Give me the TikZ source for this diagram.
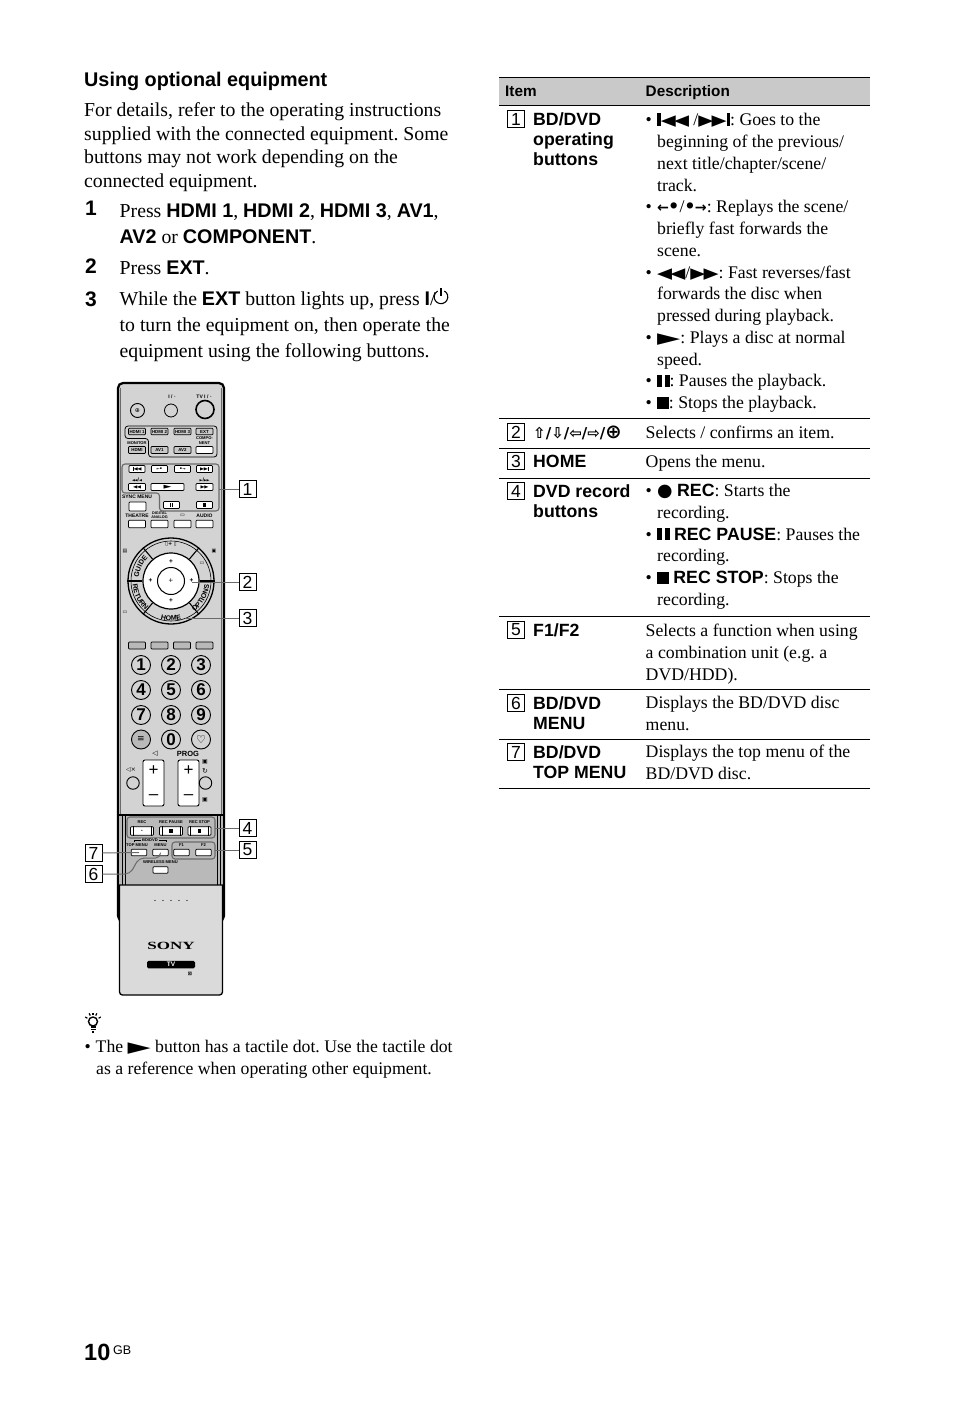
\documentclass[tikz,border=0pt]{standalone}
\usepackage{fontspec}
\usepackage{graphicx}
\usetikzlibrary{decorations.text}
\setmainfont{Liberation Serif}
\setsansfont{Liberation Sans}
\newfontfamily\symf{DejaVu Sans}

\definecolor{headgray}{HTML}{C9C9C9}
\definecolor{bodygray}{HTML}{D3D3D3}
\definecolor{panelgray}{HTML}{B9B9B9}
\definecolor{covergray}{HTML}{DADADA}
\definecolor{linegray}{HTML}{6A6A6A}

\newcommand{\bs}[1]{{\sffamily\bfseries #1}}
\newcommand{\vbar}{\rule{.2em}{.72em}}
\newcommand{\tril}{\scalebox{1.1}[.85]{\symf ◀}}
\newcommand{\trir}{\scalebox{1.1}[.85]{\symf ▶}}
\newcommand{\icoprev}{\vbar\tril\kern-.1em\tril}
\newcommand{\iconext}{\trir\kern-.1em\trir\vbar}
\newcommand{\icorew}{\tril\kern-.1em\tril}
\newcommand{\icoff}{\trir\kern-.1em\trir}
\newcommand{\icoplay}{\scalebox{1.7}[.85]{\symf ▶}}
\newcommand{\icopause}{\rule{.28em}{.66em}\kern.14em\rule{.28em}{.66em}}
\newcommand{\icostop}{\rule{.66em}{.66em}}
\newcommand{\icorec}{{\symf ●}}
\newcommand{\icoback}{{\symf\bfseries\scalebox{.8}{←}\kern-.05em•}}
\newcommand{\icofwd}{{\symf\bfseries•\kern-.05em\scalebox{.8}{→}}}
\newcommand{\bul}{\makebox[11.5pt][l]{•}}
\newcommand{\hng}{\hspace*{11.5pt}}
\newcommand{\ringf}{\fontsize{7}{7}\sffamily\bfseries}

\tikzset{
  para/.style={anchor=north west,inner sep=0,align=left,execute at begin node=\frenchspacing\strut},
  main/.style={para,font=\fontsize{19.75}{23.7}\selectfont},
  stepline/.style={para,font=\fontsize{19.75}{26}\selectfont},
  stepnum/.style={anchor=base west,inner sep=0,font=\fontsize{21}{21}\sffamily\bfseries},
  desc/.style={para,font=\fontsize{17.75}{21.75}\selectfont},
  item/.style={para,font=\fontsize{17.7}{20}\sffamily\bfseries},
  headtxt/.style={anchor=base west,inner sep=0,font=\fontsize{15.3}{16}\sffamily\bfseries},
  numbox/.style={draw,line width=.8,fill=white,minimum size=17,inner sep=0,font=\fontsize{17.5}{18}\sffamily},
  rule/.style={line width=.9},
  btn/.style={draw,line width=.7,fill=white,rounded corners=.8,minimum width=17,minimum height=7,inner sep=0,font=\fontsize{4.4}{5}\sffamily\bfseries},
  gbtn/.style={btn,fill=headgray},
  lab/.style={inner sep=0,align=center,font=\fontsize{5}{5.2}\sffamily\bfseries},
  smalllab/.style={lab,font=\fontsize{4.1}{5}\sffamily\bfseries},
  key/.style={circle,draw,line width=.9,fill=bodygray,minimum size=19,inner sep=0,font=\fontsize{17}{17}\sffamily\bfseries},
  rocker/.style={draw,line width=.9,fill=white,rounded corners=2,minimum width=21,minimum height=46,inner sep=0},
  group/.style={draw=linegray,line width=1.1,rounded corners=3},
  leader/.style={draw=linegray,line width=1},
  ringtxt/.style={decorate,decoration={text along path,text align=center,text={|\ringf|#1}}}
}

\begin{document}
\begin{tikzpicture}[x=1pt,y=-1pt]
  \useasboundingbox (0,0) rectangle (954,1404);

  \node[anchor=base west,inner sep=0,font=\fontsize{19.8}{22}\sffamily\bfseries] (title) at (84,87) {Using optional equipment};
  \node[main] (intro) at (84,102.4) {For details, refer to the operating instructions\\supplied with the connected equipment. Some\\buttons may not work depending on the\\connected equipment.};

  \node[stepnum] (numa) at (85,216) {1};
  \node[stepnum] (numb) at (85,273.5) {2};
  \node[stepnum] (numc) at (85,306) {3};
  \node[stepline] (stepa) at (119.5,203.8) {Press \bs{HDMI 1}, \bs{HDMI 2}, \bs{HDMI 3}, \bs{AV1},\\\bs{AV2} or \bs{COMPONENT}.};
  \node[stepline] (stepb) at (119.5,255.8) {Press \bs{EXT}.};
  \node[stepline] (stepc) at (119.5,291.8) {While the \bs{EXT} button lights up, press \bs{I}/\\to turn the equipment on, then operate the\\equipment using the following buttons.};
  \draw[line width=1.1] (444.4,291) arc (300:600:6.8);
  \draw[line width=1.1] (441,288) -- (441,296.5);

  % remote body
  \draw[line width=2.2,fill=bodygray,rounded corners=5] (118,921) -- (118,383) -- (224,383) -- (224,921) -- cycle;
  \foreach \sx in {120.5,221.5}{\draw[linegray,line width=.6] (\sx,388) -- (\sx,815);}
  \fill[panelgray] (120,815) rectangle (222,885);
  \draw[line width=1.2] (119,815) -- (223,815);
  \foreach \sx in {122,125,217,220}{\draw[black,line width=.6] (\sx,815) -- (\sx,885);}
  \draw[line width=1.3,fill=covergray] (119.5,885) -- (222.5,885) [rounded corners=3] -- (222.5,995) -- (119.5,995) [sharp corners] -- cycle;
  \foreach \dx in {155,163,171,179,187}{\fill (\dx,900.5) circle (.6);}
  \node[inner sep=0,font=\fontsize{11}{11}\bfseries] (sony) at (171,946) {\scalebox{1.55}[1]{SONY}};
  \node[fill=black,text=white,rounded corners=1.5,minimum width=48,minimum height=7.5,inner sep=0,font=\fontsize{6.5}{7}\sffamily\bfseries] (tvbar) at (171,964.5) {TV};
  \node[lab] (eco) at (190,974) {{\symf ⊠}};

  % power row
  \node[circle,draw,line width=.9,fill=bodygray,minimum size=14,inner sep=0,font=\fontsize{6}{6}\symf] (sync) at (137.5,410.5) {⊕};
  \node[circle,draw,line width=.8,fill=bodygray,minimum size=13,inner sep=0] (powa) at (171,410.5) {};
  \node[circle,draw,line width=1.6,fill=bodygray,minimum size=18,inner sep=0] (powb) at (205,409.5) {};
  \node[lab] (powlab) at (172,397) {I / ◦};
  \node[lab] (tvlab) at (204,397) {TV I / ◦};

  % input group
  \draw[group,draw=black,line width=.8] (125,426) -- (217,426) -- (217,457) -- (148.5,457) -- (148.5,438.5) -- (125,438.5) -- cycle;
  \foreach \nm/\cx/\lbl in {hdmia/137/HDMI 1,hdmib/159.5/HDMI 2,hdmic/182.5/HDMI 3,ext/204.5/EXT}{\node[gbtn,minimum height=6.5] (\nm) at (\cx,431.5) {\lbl};}
  \node[smalllab] (monlab) at (137,443) {MONITOR};
  \node[gbtn] (hdmid) at (137,450) {HDMI};
  \node[gbtn] (ava) at (159.5,450) {AV1};
  \node[gbtn] (avb) at (182.5,450) {AV2};
  \node[btn] (comp) at (204.5,450) {};
  \node[smalllab] (complab) at (204.5,440.5) {COMPO-\\NENT};

  % bd/dvd group
  \draw[group] (122,464) -- (219,464) -- (219,511) -- (159.5,511) -- (159.5,493) -- (122,493) -- cycle;
  \foreach \nm/\cx/\ico in {prv/137/\icoprev,bck/159.5/\icoback,fwd/182.5/\icofwd,nxt/204.5/\iconext}{\node[btn,minimum width=16,font=\fontsize{5}{5}\selectfont] (\nm) at (\cx,469) {\ico};}
  \node[btn,font=\fontsize{5}{5}\selectfont] (rew) at (137,487) {\icorew};
  \node[btn,minimum width=33,font=\fontsize{6}{6}\selectfont] (play) at (167.5,487) {\icoplay};
  \node[btn,font=\fontsize{5}{5}\selectfont] (ffw) at (204.5,487) {\icoff};
  \node[lab] (rewlab) at (137,479.5) {\scalebox{.7}{\icorew}/\scalebox{.7}{\tril}};
  \node[lab] (ffwlab) at (204.5,479.5) {\scalebox{.7}{\trir}/\scalebox{.7}{\icoff}};
  \node[lab] (synclab) at (137,497) {SYNC MENU};
  \node[btn,minimum height=9] (syncb) at (137.5,506.5) {};
  \node[btn,minimum width=16,font=\fontsize{5}{5}\selectfont] (pau) at (171.5,505) {\icopause};
  \node[btn,minimum width=16,font=\fontsize{5}{5}\selectfont] (stp) at (204.5,505) {\icostop};

  \node[lab] (thlab) at (137,515.5) {THEATRE};
  \node[lab,font=\fontsize{3.8}{4.2}\sffamily\bfseries] (dilab) at (159.5,515.5) {DIGITAL\\ANALOG};
  \node[lab] (sublab) at (182.5,515.5) {{\symf ▭}};
  \node[lab] (aulab) at (204.5,515.5) {AUDIO};
  \foreach \nm/\cx in {tha/137,thb/159.5,thc/182.5,thd/204.5}{\node[btn,minimum height=7.5] (\nm) at (\cx,524) {};}

  % nav ring
  \node[circle,draw,line width=1.3,fill=bodygray,minimum size=86,inner sep=0] (ringout) at (171,581) {};
  \node[circle,draw,line width=.6,minimum size=80,inner sep=0] (ringmid) at (171,581) {};
  \node[circle,draw,line width=1.2,fill=white,minimum size=56,inner sep=0] (ringin) at (171,581) {};
  \node[circle,draw,line width=1,fill=white,minimum size=27,inner sep=0] (enter) at (171,581) {};
  \foreach \a in {0,50,130,180,230,310}{\draw[line width=1.1] (ringin.\a) -- (ringout.\a);}
  \node[lab,font=\fontsize{6}{6}\symf] (enterdot) at (171,581) {+};
  \foreach \nm/\bx/\by in {upk/171/561.5,dnk/171/600.5,ltk/150.5/581,rtk/191.5/581}{\node[lab,font=\fontsize{6.5}{6.5}\sffamily\bfseries] (\nm) at (\bx,\by) {+};}
  \path[ringtxt=GUIDE] (171,581) ++(-176:32.5) arc (-176:-133:32.5);
  \path[ringtxt=RETURN] (171,581) ++(-184:38.5) arc (-184:-230:38.5);
  \path[ringtxt=HOME] (171,581) ++(-248:39.5) arc (-248:-292:39.5);
  \path[ringtxt=OPTIONS] (171,581) ++(55:38.5) arc (55:4:38.5);
  \node[lab] (topic) at (171,544.5) {{\symf ▯+ ▯}};
  \node[lab] (iconl) at (125,551) {{\symf ▤}};
  \node[lab] (iconr) at (214,551) {{\symf ▣}};
  \node[lab] (iconb) at (125,612) {{\symf ▭}};
  \node[lab] (iconc) at (202,563) {{\symf ▭}};

  % colour keys and numbers
  \foreach \nm/\cx in {cola/137,colb/159.5,colc/182,cold/204.5}{\node[btn,fill=panelgray] (\nm) at (\cx,645.5) {};}
  \foreach \n/\cx/\cy in {1/141/665,2/171/665,3/201/665,4/141/690,5/171/690,6/201/690,7/141/715,8/171/715,9/201/715,0/171/739.5}{\node[key] (key\n) at (\cx,\cy) {\n};}
  \node[key,fill=panelgray,font=\fontsize{9}{9}\symf] (keyt) at (141,739.5) {≡};
  \node[key,font=\fontsize{11}{11}\symf] (keyh) at (201,739.5) {♡};

  % volume and prog
  \node[rocker] (vol) at (153.5,783) {};
  \node[rocker] (prog) at (188.5,783) {};
  \foreach \nm/\cx in {vp/153.5,pp/188.5}{\node[inner sep=0,font=\fontsize{17}{17}\sffamily] (\nm) at (\cx,771) {+};}
  \foreach \nm/\cx in {vm/153.5,pm/188.5}{\node[inner sep=0,font=\fontsize{17}{17}\sffamily] (\nm) at (\cx,797) {–};}
  \node[lab,font=\fontsize{7}{7}\symf] (vollab) at (155,754) {◁};
  \node[lab,font=\fontsize{7.5}{8}\sffamily\bfseries] (proglab) at (188,754) {PROG};
  \node[circle,draw,line width=.9,fill=bodygray,minimum size=12.5,inner sep=0] (mute) at (133,783) {};
  \node[circle,draw,line width=.9,fill=bodygray,minimum size=12.5,inner sep=0] (back) at (205.5,783) {};
  \node[lab,font=\fontsize{6}{6}\symf] (mutelab) at (131,770) {◁×};
  \node[lab,font=\fontsize{6}{6}\symf] (chup) at (205,762) {▣};
  \node[lab,font=\fontsize{7}{7}\symf] (rtn) at (205,771) {↻};
  \node[lab,font=\fontsize{6}{6}\symf] (chdn) at (205,800) {▣};

  % lower panel
  \draw[group] (127,817) rectangle (215,838);
  \foreach \nm/\cx/\lbl/\ico in {rec/142/REC/\textbullet,rcp/171/REC PAUSE/\icostop,rcs/199.5/REC STOP/\icostop}{
    \node[btn,minimum width=23,minimum height=8.5,font=\fontsize{5}{5}\selectfont] (\nm) at (\cx,831) {\ico};
    \draw[line width=.5] ([xshift=3]\nm.north west) -- ([xshift=3]\nm.south west) ([xshift=-3]\nm.north east) -- ([xshift=-3]\nm.south east);
    \node[smalllab] (\nm lab) at (\cx,822.5) {\lbl};
  }
  \draw[group] (172,842) rectangle (215,859);
  \draw[line width=.5] (134,842) -- (134,840) -- (166,840) -- (166,842);
  \node[smalllab,fill=panelgray,inner xsep=1] (bdlab) at (150,840) {BD/DVD};
  \node[smalllab] (toplab) at (137,845.5) {TOP MENU};
  \node[smalllab] (menlab) at (160.5,845.5) {MENU};
  \node[smalllab] (fone) at (181.5,845.5) {F1};
  \node[smalllab] (ftwo) at (203.5,845.5) {F2};
  \foreach \nm/\cx in {topb/139,menb/160.5,fa/181.5,fb/203.5}{\node[btn,minimum width=15.5,minimum height=6.5] (\nm) at (\cx,852.5) {};}
  \node[smalllab] (wllab) at (160.5,862.5) {WIRELESS MENU};
  \node[btn,minimum width=15,minimum height=6.5] (wlb) at (160.5,870) {};

  % callouts
  \node[numbox] (calla) at (247.5,489) {1};
  \node[numbox] (callb) at (247.5,582) {2};
  \node[numbox] (callc) at (247.5,618) {3};
  \node[numbox] (calld) at (247.5,828) {4};
  \node[numbox] (calle) at (247.5,850) {5};
  \node[numbox] (callf) at (93.5,874) {6};
  \node[numbox] (callg) at (93.5,853) {7};
  \coordinate (gra) at (219,489);
  \coordinate (grb) at (191.5,582);
  \coordinate (grc) at (185,618);
  \coordinate (grd) at (215,828);
  \coordinate (gre) at (215,850);
  \coordinate (grf) at (160.5,852.5);
  \draw[leader] (calla) -- (gra);
  \draw[leader] (callb) -- (grb);
  \draw[leader] (callc) -- (grc);
  \draw[leader] (calld) -- (grd);
  \draw[leader] (calle) -- (gre);
  \draw[leader] (callg) -- (topb.center);
  \draw[leader,rounded corners=5] (callf) -- (130,874) -- (139,858) -- (160.5,858) -- (grf);

  % tip
  \draw[line width=1.4] (93,1021.5) circle (4.5);
  \draw[line width=1.3] (90.5,1027) -- (95.5,1027) (90.5,1029.5) -- (95.5,1029.5) (92,1032) -- (94,1032);
  \foreach \a in {-150,-115,-90,-65,-30}{\draw[line width=1.2] (93,1021.5) ++(\a:6.5) -- ++(\a:2.5);}
  \node[para,font=\fontsize{17.7}{22}\selectfont] (tip) at (84.5,1039.6) {\bul\kern-.5pt The \icoplay\ button has a tactile dot. Use the tactile dot\\\hng as a reference when operating other equipment.};

  % table
  \fill[headgray] (499,77) rectangle (870,105);
  \draw[rule] (499,77) -- (870,77);
  \foreach \ry in {105,418.5,448.5,478.5,616.5,689.5,739.5,788.5}{\draw[rule] (499,\ry) -- (870,\ry);}
  \node[headtxt] (hitem) at (505,97) {Item};
  \node[headtxt] (hdesc) at (645.5,97) {Description};
  \foreach \n/\ty in {1/119,2/432,3/461,4/491,5/630,6/703,7/752}{\node[numbox,line width=.9] (item\n) at (516,\ty) {\n};}

  \node[item] (itema) at (533,112) {BD/DVD\\operating\\buttons};
  \node[item,font=\fontsize{15}{20}\symf\bfseries] (itemb) at (533,424) {⇧/⇩/⇦/⇨/\scalebox{1.3}{⊕}};
  \node[item] (itemc) at (533,453) {HOME};
  \node[item] (itemd) at (533,484.5) {DVD record\\buttons};
  \node[item] (iteme) at (533,622) {F1/F2};
  \node[item] (itemf) at (533,696) {BD/DVD\\MENU};
  \node[item] (itemg) at (533,745) {BD/DVD\\TOP MENU};

  \node[desc] (desca) at (645.5,112.8) {\bul\icoprev\ /\iconext: Goes to the\\\hng beginning of the previous/\\\hng next title/chapter/scene/\\\hng track.\\\bul\icoback/\icofwd: Replays the scene/\\\hng briefly fast forwards the\\\hng scene.\\\bul\icorew/\icoff: Fast reverses/fast\\\hng forwards the disc when\\\hng pressed during playback.\\\bul\icoplay: Plays a disc at normal\\\hng speed.\\\bul\icopause: Pauses the playback.\\\bul\icostop: Stops the playback.};
  \node[desc] (descb) at (645.5,422.8) {Selects / confirms an item.};
  \node[desc] (descc) at (645.5,451.8) {Opens the menu.};
  \node[desc] (descd) at (645.5,484) {\bul\icorec\ \bs{REC}: Starts the\\\hng recording.\\\bul\icopause\ \bs{REC PAUSE}: Pauses the\\\hng recording.\\\bul\icostop\ \bs{REC STOP}: Stops the\\\hng recording.};
  \node[desc] (desce) at (645.5,623.8) {Selects a function when using\\a combination unit (e.g. a\\DVD/HDD).};
  \node[desc] (descf) at (645.5,696) {Displays the BD/DVD disc\\menu.};
  \node[desc] (descg) at (645.5,745) {Displays the top menu of the\\BD/DVD disc.};

  % page number
  \node[anchor=base west,inner sep=0,font=\fontsize{23.5}{24}\sffamily\bfseries] (pageno) at (84,1360) {10};
  \node[anchor=base west,inner sep=0,font=\fontsize{12.5}{13}\sffamily] (gb) at (113,1354) {GB};
\end{tikzpicture}
\end{document}
